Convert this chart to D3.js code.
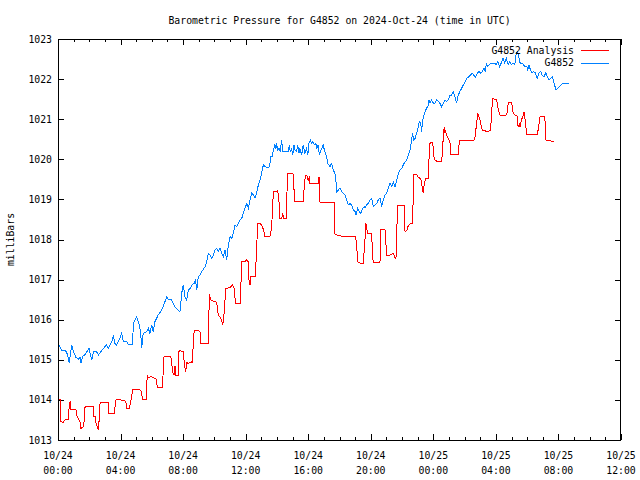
<!DOCTYPE html>
<html>
<head>
<meta charset="utf-8">
<script src="https://cdn.jsdelivr.net/npm/d3@7"></script>
<style>
  html, body { margin: 0; padding: 0; background: #fff; }
  svg { display: block; }
  text { font-family: "DejaVu Sans Mono", "Liberation Mono", monospace; font-size: 9.8px; fill: #000; }
</style>
</head>
<body>
<svg id="chart" width="640" height="480"></svg>
<script>
// ---------- DATA ----------
const chartTitle = "Barometric Pressure for G4852 on 2024-Oct-24 (time in UTC)";
const yLabel = "milliBars";
const seriesNames = ["G4852 Analysis", "G4852"];
const startTime = "2024-10-24T00:00:00Z";
const endTime = "2024-10-25T12:00:00Z";
const yTicks = [1013, 1014, 1015, 1016, 1017, 1018, 1019, 1020, 1021, 1022, 1023];

// [hours since 2024-10-24 00:00 UTC, millibars]
const analysisSeries = [
[0,1014.01],[0.16,1014.01],[0.19,1013.46],[0.32,1013.44],[0.45,1013.50],[0.64,1013.50],[0.70,1013.75],[0.77,1013.96],[0.83,1013.75],[0.96,1013.75],[1.15,1013.75],[1.23,1013.58],[1.34,1013.50],[1.41,1013.44],[1.47,1013.29],[1.62,1013.33],[1.68,1013.50],[1.73,1013.83],[2.24,1013.83],[2.30,1013.58],[2.40,1013.58],[2.43,1013.42],[2.53,1013.30],[2.58,1013.25],[2.64,1013.55],[2.69,1013.93],[3.20,1013.93],[3.26,1013.65],[3.58,1013.65],[3.64,1013.80],[3.71,1014.01],[3.96,1014.00],[4.28,1013.98],[4.35,1013.92],[4.39,1013.79],[4.56,1013.79],[4.60,1013.87],[4.71,1014.08],[4.78,1014.25],[5.05,1014.27],[5.24,1014.25],[5.35,1014.20],[5.39,1014.00],[5.63,1014.00],[5.67,1014.35],[5.71,1014.62],[5.77,1014.55],[5.95,1014.58],[6.07,1014.56],[6.27,1014.52],[6.31,1014.40],[6.37,1014.31],[6.69,1014.31],[6.73,1014.79],[6.78,1015.08],[7.21,1015.08],[7.27,1014.93],[7.33,1014.70],[7.42,1014.62],[7.48,1014.85],[7.54,1014.62],[7.69,1014.62],[7.74,1015.23],[8.01,1015.21],[8.07,1014.95],[8.16,1014.70],[8.23,1014.93],[8.33,1014.91],[8.44,1014.93],[8.55,1014.95],[8.59,1014.91],[8.65,1015.41],[8.71,1015.74],[8.97,1015.74],[9.08,1015.70],[9.14,1015.41],[9.61,1015.41],[9.65,1016.03],[9.67,1016.64],[9.78,1016.49],[10.04,1016.45],[10.15,1016.43],[10.25,1016.12],[10.36,1016.07],[10.47,1015.98],[10.53,1015.87],[10.59,1016.00],[10.68,1016.50],[10.72,1016.78],[11.00,1016.80],[11.14,1016.87],[11.25,1016.80],[11.32,1016.53],[11.38,1016.41],[11.64,1016.41],[11.70,1016.91],[11.75,1017.45],[11.96,1017.45],[12.07,1017.49],[12.15,1017.45],[12.21,1016.99],[12.28,1016.87],[12.32,1017.07],[12.60,1017.07],[12.71,1017.74],[12.75,1018.40],[12.92,1018.40],[13.04,1018.35],[13.13,1018.25],[13.24,1018.07],[13.55,1018.07],[13.66,1018.30],[13.77,1019.19],[13.94,1019.19],[14.05,1019.23],[14.13,1018.95],[14.19,1018.53],[14.30,1018.53],[14.37,1018.65],[14.43,1018.53],[14.62,1018.53],[14.66,1019.65],[15.01,1019.65],[15.07,1019.61],[15.11,1018.94],[15.58,1018.94],[15.68,1018.94],[15.75,1019.35],[15.79,1019.50],[15.86,1019.61],[15.94,1019.57],[16.01,1019.45],[16.07,1019.57],[16.11,1019.40],[16.64,1019.40],[16.69,1019.57],[16.71,1018.94],[16.94,1018.92],[17.65,1018.92],[17.67,1018.53],[17.71,1018.14],[17.92,1018.09],[19.03,1018.07],[19.10,1017.86],[19.16,1017.45],[19.31,1017.41],[19.52,1017.41],[19.63,1018.00],[19.69,1018.40],[19.74,1018.28],[19.80,1018.15],[20.06,1018.14],[20.10,1017.70],[20.16,1017.42],[20.52,1017.42],[20.59,1017.45],[20.65,1018.24],[20.91,1018.24],[20.95,1017.95],[21.04,1017.59],[21.23,1017.61],[21.44,1017.65],[21.55,1017.55],[21.61,1017.53],[21.66,1018.19],[21.72,1018.84],[22.14,1018.84],[22.19,1018.19],[22.30,1018.22],[22.40,1018.35],[22.51,1018.39],[22.65,1018.39],[22.72,1019.03],[22.76,1019.63],[22.93,1019.63],[22.99,1019.57],[23.15,1019.52],[23.21,1019.48],[23.29,1019.30],[23.36,1019.15],[23.42,1019.40],[23.51,1019.52],[23.68,1019.52],[23.72,1019.98],[23.79,1020.41],[23.93,1020.41],[24.00,1020.30],[24.05,1020.02],[24.10,1019.98],[24.28,1019.94],[24.53,1019.94],[24.59,1020.20],[24.64,1020.61],[24.70,1020.81],[24.74,1020.65],[24.78,1020.70],[24.85,1020.60],[24.91,1020.55],[24.99,1020.50],[25.06,1020.44],[25.12,1020.13],[25.38,1020.12],[25.59,1020.13],[25.64,1020.35],[25.67,1020.48],[26.60,1020.48],[26.69,1020.60],[26.76,1020.90],[26.85,1021.13],[26.98,1021.00],[27.07,1020.81],[27.14,1020.73],[27.46,1020.69],[27.66,1020.73],[27.72,1021.10],[27.79,1021.52],[28.05,1021.48],[28.10,1021.35],[28.16,1021.23],[28.29,1021.08],[28.51,1021.08],[28.70,1021.12],[28.77,1021.35],[28.83,1021.41],[29.01,1021.41],[29.06,1021.30],[29.10,1021.16],[29.28,1021.08],[29.35,1021.08],[29.37,1020.90],[29.44,1020.80],[29.50,1020.90],[29.54,1020.80],[29.65,1021.00],[29.72,1021.05],[29.76,1021.16],[29.80,1021.16],[29.87,1020.98],[29.94,1020.73],[29.99,1020.61],[30.64,1020.61],[30.70,1020.73],[30.75,1020.85],[30.82,1021.06],[31.12,1021.06],[31.17,1020.80],[31.20,1020.48],[31.59,1020.45],[31.73,1020.45]
];

const stationSeries = [
[0.06,1015.37],[0.24,1015.24],[0.45,1015.24],[0.56,1015.18],[0.66,1015.04],[0.72,1014.91],[0.81,1015.20],[0.88,1015.37],[0.98,1015.20],[1.15,1015.06],[1.30,1015.01],[1.41,1015.06],[1.47,1014.91],[1.58,1015.08],[1.79,1015.16],[1.98,1015.29],[2.07,1015.12],[2.17,1015.00],[2.26,1015.20],[2.47,1015.20],[2.58,1015.12],[2.69,1015.18],[3.01,1015.33],[3.11,1015.37],[3.22,1015.29],[3.43,1015.45],[3.54,1015.58],[3.64,1015.41],[3.75,1015.37],[3.96,1015.54],[4.07,1015.66],[4.18,1015.45],[4.39,1015.45],[4.49,1015.39],[4.78,1015.39],[4.81,1015.91],[5.03,1016.08],[5.20,1015.87],[5.29,1015.66],[5.35,1015.29],[5.45,1015.66],[5.67,1015.70],[5.77,1015.79],[5.88,1015.66],[5.99,1015.87],[6.09,1015.70],[6.20,1015.95],[6.41,1016.12],[6.63,1016.24],[6.84,1016.45],[6.95,1016.57],[7.05,1016.51],[7.27,1016.49],[7.37,1016.41],[7.48,1016.32],[7.59,1016.28],[7.69,1016.24],[7.80,1016.20],[7.91,1016.66],[8.01,1016.87],[8.12,1016.57],[8.23,1016.49],[8.33,1016.74],[8.44,1016.78],[8.59,1016.87],[8.71,1016.91],[8.80,1016.99],[8.87,1016.74],[8.97,1017.07],[9.08,1017.11],[9.19,1017.20],[9.40,1017.32],[9.51,1017.45],[9.61,1017.66],[9.72,1017.61],[9.83,1017.53],[9.93,1017.61],[10.04,1017.74],[10.15,1017.78],[10.25,1017.70],[10.36,1017.78],[10.47,1017.66],[10.57,1017.57],[10.68,1017.74],[10.79,1017.49],[10.89,1017.86],[11.00,1018.07],[11.11,1018.03],[11.21,1018.15],[11.32,1018.36],[11.43,1018.32],[11.53,1018.40],[11.64,1018.49],[11.75,1018.53],[11.85,1018.65],[11.96,1018.78],[12.07,1018.90],[12.17,1018.78],[12.28,1018.99],[12.39,1019.15],[12.49,1019.11],[12.60,1019.03],[12.70,1019.15],[12.81,1019.36],[12.92,1019.48],[13.02,1019.65],[13.13,1019.86],[13.24,1019.82],[13.34,1019.80],[13.49,1019.80],[13.55,1019.90],[13.62,1020.07],[13.70,1020.07],[13.77,1020.23],[13.87,1020.36],[13.94,1020.27],[13.98,1020.40],[14.05,1020.23],[14.13,1020.27],[14.21,1020.19],[14.30,1020.48],[14.37,1020.19],[14.51,1020.19],[14.72,1020.19],[14.79,1020.36],[14.85,1020.19],[14.94,1020.27],[15.01,1020.11],[15.09,1020.36],[15.15,1020.23],[15.26,1020.19],[15.33,1020.36],[15.41,1020.15],[15.47,1020.27],[15.58,1020.11],[15.68,1020.36],[15.79,1020.15],[15.90,1020.27],[15.97,1020.11],[16.05,1020.40],[16.13,1020.48],[16.22,1020.40],[16.30,1020.44],[16.39,1020.36],[16.48,1020.40],[16.56,1020.27],[16.64,1020.36],[16.71,1020.11],[16.82,1020.23],[16.96,1020.36],[17.03,1020.23],[17.12,1020.11],[17.18,1020.07],[17.24,1019.90],[17.39,1019.82],[17.50,1019.90],[17.60,1019.73],[17.71,1019.65],[17.77,1019.48],[17.82,1019.19],[17.92,1019.23],[18.03,1019.28],[18.14,1019.19],[18.24,1019.15],[18.35,1019.11],[18.46,1018.99],[18.56,1018.86],[18.67,1018.90],[18.78,1018.86],[18.88,1018.74],[18.99,1018.70],[19.05,1018.61],[19.16,1018.78],[19.26,1018.70],[19.37,1018.65],[19.48,1018.78],[19.58,1018.82],[19.63,1018.78],[19.74,1018.86],[19.84,1018.90],[19.95,1018.99],[20.06,1019.03],[20.16,1018.82],[20.27,1018.86],[20.38,1018.90],[20.48,1018.99],[20.59,1019.03],[20.70,1018.82],[20.80,1018.99],[20.91,1019.11],[21.02,1019.15],[21.12,1019.28],[21.23,1019.40],[21.34,1019.32],[21.44,1019.44],[21.55,1019.32],[21.66,1019.48],[21.76,1019.65],[21.87,1019.73],[21.98,1019.77],[22.08,1019.86],[22.19,1019.94],[22.30,1019.98],[22.40,1020.11],[22.51,1020.23],[22.61,1020.48],[22.68,1020.65],[22.74,1020.48],[22.83,1020.52],[22.93,1020.65],[23.04,1020.81],[23.10,1020.94],[23.19,1020.90],[23.25,1020.69],[23.32,1020.98],[23.40,1021.10],[23.47,1021.19],[23.57,1021.27],[23.68,1021.35],[23.72,1021.48],[23.79,1021.40],[23.89,1021.48],[24.00,1021.40],[24.10,1021.40],[24.21,1021.48],[24.32,1021.44],[24.42,1021.40],[24.53,1021.31],[24.64,1021.40],[24.74,1021.48],[24.85,1021.44],[24.96,1021.48],[25.06,1021.60],[25.17,1021.60],[25.27,1021.69],[25.38,1021.56],[25.49,1021.40],[25.59,1021.60],[25.70,1021.69],[25.81,1021.77],[25.91,1021.85],[26.04,1021.94],[26.15,1022.02],[26.26,1022.06],[26.37,1022.10],[26.48,1022.15],[26.59,1022.10],[26.69,1022.04],[26.81,1022.15],[26.92,1022.19],[27.03,1022.15],[27.14,1022.19],[27.24,1022.27],[27.31,1022.19],[27.40,1022.40],[27.46,1022.31],[27.57,1022.36],[27.69,1022.40],[27.90,1022.40],[28.01,1022.36],[28.12,1022.44],[28.23,1022.31],[28.34,1022.40],[28.45,1022.52],[28.56,1022.40],[28.67,1022.52],[28.78,1022.36],[28.89,1022.44],[29.00,1022.36],[29.10,1022.40],[29.21,1022.36],[29.28,1022.60],[29.37,1022.68],[29.44,1022.60],[29.55,1022.40],[29.65,1022.40],[29.76,1022.36],[29.87,1022.31],[29.98,1022.31],[30.04,1022.23],[30.13,1022.36],[30.20,1022.23],[30.31,1022.15],[30.42,1022.19],[30.53,1022.15],[30.64,1022.02],[30.75,1022.15],[30.86,1022.19],[30.96,1022.10],[31.07,1022.06],[31.19,1022.15],[31.30,1022.06],[31.41,1021.98],[31.51,1022.02],[31.62,1022.06],[31.73,1021.89],[31.84,1021.73],[31.95,1021.77],[32.07,1021.81],[32.17,1021.85],[32.28,1021.89],[32.67,1021.89]
];

const seriesColors = ["#ff0000", "#0080ff"];

// ---------- CHART ----------
const W = 640, H = 480;
const m = { left: 58, right: 19, top: 39, bottom: 40 };
const svg = d3.select("#chart");

const t0 = new Date(startTime), t1 = new Date(endTime);
const toDate = h => new Date(t0.getTime() + h * 3600000);

const x = d3.scaleUtc().domain([t0, t1]).range([m.left, W - m.right]);
const y = d3.scaleLinear().domain([1013, 1023]).range([H - m.bottom, m.top]);

const majorTicks = d3.utcHour.every(4).range(t0, new Date(t1.getTime() + 1));
const minorTicks = d3.utcHour.every(1).range(t0, new Date(t1.getTime() + 1));

const g = svg.append("g");

// ticks (inward, mirrored)
const tickG = g.append("g").attr("stroke", "#000").attr("stroke-width", 1).attr("shape-rendering", "crispEdges");
minorTicks.forEach(d => {
  const isMajor = d.getUTCHours() % 4 === 0;
  const len = isMajor ? 6 : 3;
  const xx = Math.round(x(d)) + 0.5;
  tickG.append("line").attr("x1", xx).attr("x2", xx).attr("y1", y(1013)).attr("y2", y(1013) - len);
  tickG.append("line").attr("x1", xx).attr("x2", xx).attr("y1", y(1023)).attr("y2", y(1023) + len);
});
yTicks.forEach(v => {
  const yy = Math.round(y(v)) + 0.5;
  tickG.append("line").attr("x1", m.left).attr("x2", m.left + 6).attr("y1", yy).attr("y2", yy);
  tickG.append("line").attr("x1", W - m.right).attr("x2", W - m.right - 6).attr("y1", yy).attr("y2", yy);
});

// y tick labels
const fmtDay = d3.utcFormat("%m/%d"), fmtTime = d3.utcFormat("%H:%M");
g.append("g").selectAll("text").data(yTicks).join("text")
  .attr("x", m.left - 6).attr("y", d => y(d) + 3.5)
  .attr("text-anchor", "end").text(d => d);

// x tick labels
const xl = g.append("g").selectAll("g").data(majorTicks).join("g");
xl.append("text").attr("x", d => x(d)).attr("y", H - m.bottom + 19).attr("text-anchor", "middle").text(d => fmtDay(d));
xl.append("text").attr("x", d => x(d)).attr("y", H - m.bottom + 34).attr("text-anchor", "middle").text(d => fmtTime(d));

// lines
const line = d3.line().x(d => x(toDate(d[0]))).y(d => y(d[1]));
[analysisSeries, stationSeries].forEach((s, i) => {
  g.append("path").datum(s).attr("d", line)
    .attr("fill", "none").attr("stroke", seriesColors[i]).attr("stroke-width", 1)
    .attr("stroke-linejoin", "miter").attr("shape-rendering", "crispEdges");
});

// frame
g.append("rect").attr("x", m.left + 0.5).attr("y", m.top + 0.5)
  .attr("width", W - m.left - m.right - 1).attr("height", H - m.top - m.bottom)
  .attr("fill", "none").attr("stroke", "#000").attr("shape-rendering", "crispEdges");

// title
svg.append("text").attr("x", (m.left + W - m.right) / 2).attr("y", 24)
  .attr("text-anchor", "middle").text(chartTitle);

// y label
svg.append("text").attr("transform", `translate(14,${(m.top + H - m.bottom) / 2}) rotate(-90)`)
  .attr("text-anchor", "middle").text(yLabel);

// legend
seriesNames.forEach((name, i) => {
  const ly = 50 + i * 12.5;
  svg.append("text").attr("x", 574).attr("y", ly + 3.5).attr("text-anchor", "end").text(name);
  svg.append("line").attr("x1", 581).attr("x2", 609).attr("y1", Math.round(ly) + 0.5).attr("y2", Math.round(ly) + 0.5)
    .attr("stroke", seriesColors[i]).attr("stroke-width", 1).attr("shape-rendering", "crispEdges");
});
</script>
</body>
</html>
